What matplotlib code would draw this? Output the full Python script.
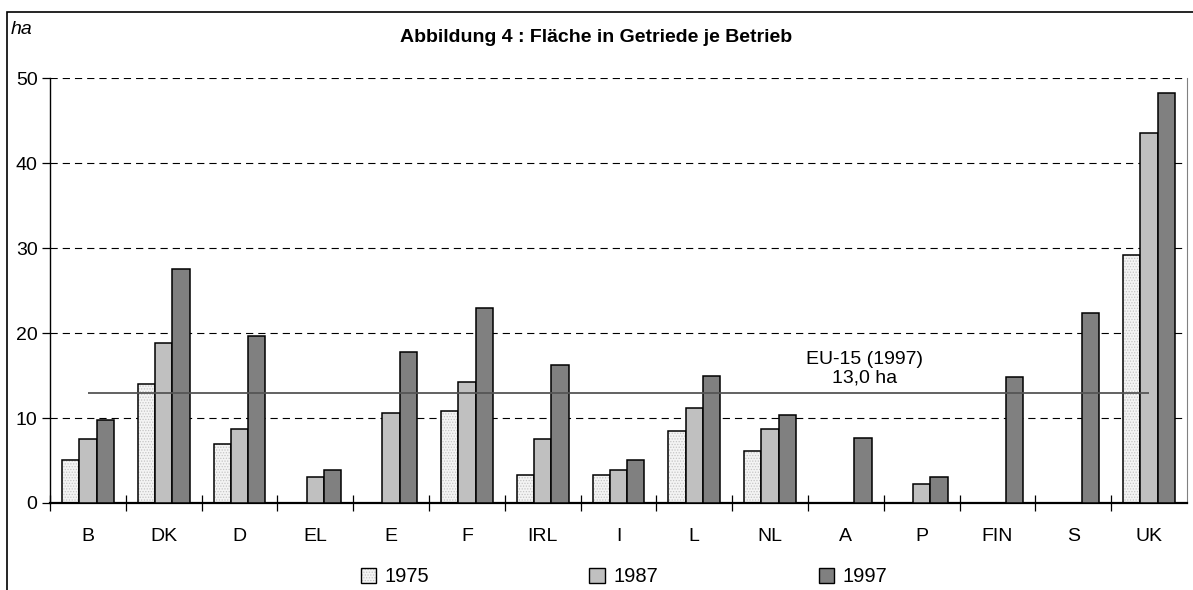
import matplotlib.pyplot as plt
import numpy as np
from matplotlib.patches import Patch, Rectangle

plt.rcParams['font.family'] = ['Liberation Sans', 'DejaVu Sans']
plt.rcParams['hatch.linewidth'] = 0.6

# Fläche in Getreide je Betrieb (ha)
laender = ["B", "DK", "D", "EL", "E", "F", "IRL", "I", "L", "NL", "A", "P", "FIN", "S", "UK"]
jahre = ["1975", "1987", "1997"]
werte_1975 = [5.1, 14.0, 7.0, 0, 0, 10.8, 3.3, 3.3, 8.5, 6.1, 0, 0, 0, 0, 29.2]
werte_1987 = [7.5, 18.8, 8.7, 3.1, 10.6, 14.2, 7.5, 3.9, 11.2, 8.7, 0, 2.2, 0, 0, 43.5]
werte_1997 = [9.8, 27.5, 19.6, 3.9, 17.8, 23.0, 16.2, 5.1, 15.0, 10.3, 7.7, 3.0, 14.8, 22.4, 48.3]
eu15 = 13.0

fig = plt.figure(figsize=(11.93, 5.90), dpi=100)
ax = fig.add_axes([0.0419, 0.1475, 0.953, 0.72])

x = np.arange(len(laender))
b = 0.228
punkt_farbe = "#f4f4f4"

# 1975: gepunktete Füllung, dann schwarzer Rand drüber
w75 = np.array(werte_1975)
m = w75 > 0
ax.bar(x[m] - b, w75[m], b, color=punkt_farbe, hatch="......", edgecolor="#c4c4c4", linewidth=0, zorder=2)
ax.bar(x[m] - b, w75[m], b, fill=False, edgecolor="black", linewidth=1.1, zorder=3)

w87 = np.array(werte_1987)
m = w87 > 0
ax.bar(x[m], w87[m], b, color="#c0c0c0", edgecolor="black", linewidth=1.1, zorder=3)

w97 = np.array(werte_1997)
ax.bar(x + b, w97, b, color="#808080", edgecolor="black", linewidth=1.1, zorder=3)

# EU-15 Linie
ax.hlines(eu15, 0, 14, color="#555555", linewidth=1.3, zorder=4)
ax.text(10.25, 15.8, "EU-15 (1997)\n13,0 ha", ha="center", va="center", fontsize=14, linespacing=1.1, zorder=5)

ax.set_xlim(-0.5, 14.5)
ax.set_ylim(0, 50)
ax.set_yticks([0, 10, 20, 30, 40, 50])
ax.set_xticks(x - 0.5, minor=False)
ax.set_xticks(x, minor=True)
ax.set_xticklabels([])
ax.set_xticklabels(laender, minor=True)
ax.tick_params(axis="x", which="major", direction="inout", length=12, width=0.9)
ax.tick_params(axis="x", which="minor", length=0, pad=18, labelsize=14)
ax.tick_params(axis="y", direction="out", length=6, width=0.9, labelsize=14, pad=3)

for yv in [10, 20, 30, 40, 50]:
    ax.axhline(yv, color="black", linewidth=0.8, linestyle=(0, (6.5, 4.5)), zorder=1)

ax.spines["top"].set_visible(False)
ax.spines["right"].set_color("#808080")
ax.spines["right"].set_linewidth(0.8)
ax.spines["left"].set_linewidth(1.0)
ax.spines["bottom"].set_linewidth(1.6)

# Titel und Einheit
fig.text(0.5, 1 - 37 / 590, "Abbildung 4 : Fläche in Getriede je Betrieb", ha="center", va="center",
         fontsize=14, fontweight="bold")
fig.text(11 / 1193, 1 - 30 / 590, "ha", ha="left", va="center", fontsize=14, style="italic")

# äußerer Rahmen
fig.patches.append(Rectangle((7 / 1193, -0.2), 1.5, 1.2 - 12 / 590, transform=fig.transFigure,
                             fill=False, edgecolor="black", linewidth=1.2))

handles = [(Patch(facecolor=punkt_farbe, edgecolor="#c4c4c4", hatch="......", linewidth=0),
            Patch(fill=False, edgecolor="black", linewidth=1.0)),
           Patch(facecolor="#c0c0c0", edgecolor="black", linewidth=1.0),
           Patch(facecolor="#808080", edgecolor="black", linewidth=1.0)]
fig.legend(handles, jahre, loc="center", bbox_to_anchor=(624 / 1193, 1 - 577 / 590), ncol=3,
           frameon=False, fontsize=14.5, handlelength=0.75, handleheight=0.75, handletextpad=0.45,
           columnspacing=7.95)

fig.savefig("out.png", dpi=100)
